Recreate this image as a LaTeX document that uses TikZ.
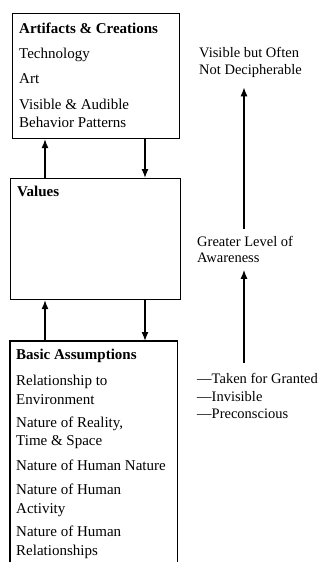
\documentclass[tikz,border=0pt]{standalone}
\usepackage{fontspec}
\setmainfont{Liberation Serif}
\usetikzlibrary{arrows.meta}
\begin{document}
\begin{tikzpicture}[x=1bp,y=-1bp,
  boxline/.style={draw=black,line width=1.1bp},
  arr/.style={line width=1.3bp,-{Latex[length=9bp,width=7bp]}},
  lt/.style={anchor=base west,inner sep=0pt,font=\fontsize{15bp}{18bp}\selectfont},
  lh/.style={lt,font=\fontsize{15bp}{18bp}\selectfont\bfseries},
  rt/.style={anchor=base west,inner sep=0pt,font=\fontsize{14.5bp}{17bp}\selectfont}]
\useasboundingbox (0,0) rectangle (324,564);
% boxes
\node[boxline,anchor=north west,minimum width=167bp,minimum height=125bp,inner sep=0pt] (art) at (12,13) {};
\node[boxline,anchor=north west,minimum width=170bp,minimum height=121bp,inner sep=0pt] (val) at (10,178) {};
\node[anchor=north west,minimum width=167bp,minimum height=221bp,inner sep=0pt] (bas) at (10,341) {};
\draw[line width=1.1bp] (bas.south west) -- (bas.north west) -- (bas.north east) -- (bas.south east);
% box 1 text
\node[lh] (a1) at (19,33.3) {Artifacts \& Creations};
\node[lt] (a2) at (19,58.3) {Technology};
\node[lt] (a3) at (19,84) {Art};
\node[lt] (a4) at (19,109.5) {Visible \& Audible};
\node[lt] (a5) at (19,127.5) {Behavior Patterns};
% box 2 text
\node[lh] (v1) at (17,196) {Values};
% box 3 text
\node[lh] (b1) at (16,359) {Basic Assumptions};
\node[lt] (b2) at (16,385.5) {Relationship to};
\node[lt] (b3) at (16,404) {Environment};
\node[lt] (b4) at (16,427.3) {Nature of Reality,};
\node[lt] (b5) at (16,445.5) {Time \& Space};
\node[lt] (b6) at (16,470) {Nature of Human Nature};
\node[lt] (b7) at (16,494.5) {Nature of Human};
\node[lt] (b8) at (16,513) {Activity};
\node[lt] (b9) at (16,536.5) {Nature of Human};
\node[lt] (b10) at (16,555) {Relationships};
% arrows between boxes
\coordinate (ux) at (45,0);
\coordinate (dx) at (145,0);
\draw[arr] (val.north -| ux) -- (art.south -| ux);
\draw[arr] (art.south -| dx) -- (val.north -| dx);
\draw[arr] (bas.north -| ux) -- (val.south -| ux);
\draw[arr] (val.south -| dx) -- (bas.north -| dx);
% right column
\node[rt] (r1) at (199,57.3) {Visible but Often};
\node[rt] (r2) at (199,75) {Not Decipherable};
\node[rt] (g1) at (197,246.5) {Greater Level of};
\node[rt] (g2) at (197,262.5) {Awareness};
\node[rt] (t1) at (197,383.3) {—Taken for Granted};
\node[rt] (t2) at (197,401.5) {—Invisible};
\node[rt] (t3) at (197,418.3) {—Preconscious};
\coordinate (ax) at (244,0);
\draw[arr,shorten <=7bp,shorten >=9bp] (g1.north -| ax) -- (r2.south -| ax);
\draw[arr,shorten <=10bp,shorten >=7bp] (t1.north -| ax) -- (g2.south -| ax);
\end{tikzpicture}
\end{document}
